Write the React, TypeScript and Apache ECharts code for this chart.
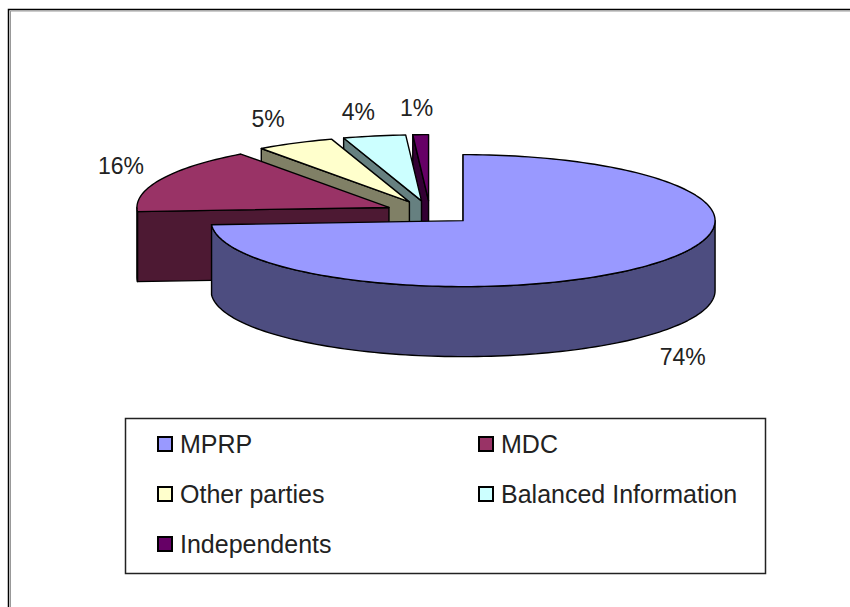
import React, { useEffect, useRef } from "react";
import * as echarts from "echarts";

const categories = ["MPRP", "MDC", "Other parties", "Balanced Information", "Independents"];
const shares = [74, 16, 5, 4, 1];
const topColors = ["#9999FF", "#993366", "#FFFFCC", "#CCFFFF", "#660066"];
const sideColors = ["#4D4D80", "#4D1933", "#808066", "#668080", "#330033"];
const labelNudges = [[36, 21], [-40, -13], [-27, -24], [-16, -24], [-4, -27]];
const legendColumns = [
  ["MPRP", "Other parties", "Independents"],
  ["MDC", "Balanced Information"],
];

const CX = 430;
const CY = 212.5;
const RX = 252;
const RY = 66;
const DEPTH = 70;
const EXPLODE = 0.18;
const STEP = 1.5;
const FONT = "Liberation Sans, Arial, sans-serif";

const total = shares.reduce((a, b) => a + b, 0);

function sliceItem(index: number) {
  return (_params: any, api: any) => {
    const before = shares.slice(0, index).reduce((a, b) => a + b, 0);
    const start = (before / total) * 360;
    const end = ((before + api.value(0)) / total) * 360;
    const mid = (start + end) / 2;
    const rad = (d: number) => (d * Math.PI) / 180;
    const ax = CX + EXPLODE * RX * Math.sin(rad(mid));
    const ay = CY - EXPLODE * RY * Math.cos(rad(mid));
    const pt = (d: number, drop = 0): [number, number] => [
      ax + RX * Math.sin(rad(d)),
      ay - RY * Math.cos(rad(d)) + drop,
    ];
    const sweep = (a: number, b: number, drop = 0) => {
      const out: [number, number][] = [];
      const n = Math.max(1, Math.ceil((b - a) / STEP));
      for (let i = 0; i <= n; i++) out.push(pt(a + ((b - a) * i) / n, drop));
      return out;
    };
    const line = { stroke: "#000", lineWidth: 1.4, lineJoin: "round" };
    const children: any[] = [];
    const sc = sideColors[index];
    // cut face along the slice's starting edge, which faces the viewer on the left-hand slices
    const s = pt(start);
    const s2 = pt(start, DEPTH);
    children.push({
      type: "polygon",
      shape: { points: [[ax, ay], s, s2, [ax, ay + DEPTH]] },
      style: { fill: sc, ...line },
    });
    // outer wall: only the front half of the rim
    const a0 = Math.max(start, 90);
    const a1 = Math.min(end, 270);
    if (a1 > a0) {
      const points = [...sweep(a0, a1), ...sweep(a0, a1, DEPTH).reverse()];
      children.push({ type: "polygon", shape: { points }, style: { fill: sc, ...line } });
    }
    children.push({
      type: "polygon",
      shape: { points: [[ax, ay], ...sweep(start, end)] },
      style: { fill: topColors[index], ...line },
    });
    const m = pt(mid, Math.cos(rad(mid)) < 0 ? DEPTH : 0);
    children.push({
      type: "text",
      style: {
        text: `${api.value(0)}%`,
        x: m[0] + labelNudges[index][0],
        y: m[1] + labelNudges[index][1],
        align: "center",
        verticalAlign: "middle",
        fontFamily: FONT,
        fontSize: 23,
        fill: "#222",
      },
    });
    return { type: "group", children };
  };
}

export default function App() {
  const ref = useRef<HTMLDivElement>(null);
  useEffect(() => {
    const chart = echarts.init(ref.current!, null, { renderer: "svg" });
    const legendBase = {
      orient: "vertical" as const,
      top: 431,
      itemWidth: 14,
      itemHeight: 14,
      itemGap: 24,
      icon: "rect",
      padding: 0,
      textStyle: { fontFamily: FONT, fontSize: 25, color: "#222", padding: [0, 0, 0, 3], lineHeight: 26 },
    };
    chart.setOption({
      animation: false,
      backgroundColor: "#fff",
      legend: [
        { ...legendBase, left: 157, data: legendColumns[0] },
        { ...legendBase, left: 478, data: legendColumns[1] },
      ],
      graphic: [
        { type: "rect", silent: true, shape: { x: 8.5, y: 9.5, width: 900, height: 700 }, style: { fill: "none", stroke: "#000", lineWidth: 1.5 } },
        { type: "rect", silent: true, shape: { x: 10.5, y: 11, width: 900, height: 700 }, style: { fill: "none", stroke: "#999", lineWidth: 1 } },
        { type: "rect", silent: true, shape: { x: 125.5, y: 418.5, width: 640, height: 155 }, style: { fill: "none", stroke: "#222", lineWidth: 1.5 } },
      ],
      series: categories.map((name, i) => ({
        type: "custom",
        name,
        coordinateSystem: "none",
        z: 10 - i,
        clip: false,
        silent: true,
        itemStyle: { color: topColors[i], borderColor: "#000", borderWidth: 1.5 },
        data: [[shares[i]]],
        renderItem: sliceItem(i),
      })),
    });
    return () => chart.dispose();
  }, []);
  return <div ref={ref} style={{ position: "fixed", left: 0, top: 0, width: 850, height: 607 }} />;
}
